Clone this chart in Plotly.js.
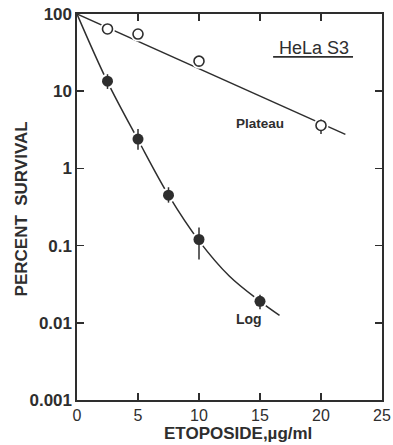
<!DOCTYPE html>
<html>
<head>
<meta charset="utf-8">
<script src="https://cdn.plot.ly/plotly-3.0.1.min.js"></script>
<style>html,body{margin:0;padding:0;background:#fff;}#chart{width:393px;height:445px;}</style>
</head>
<body>
<div id="chart"></div>
<script>
// Plateau-phase cells (open circles)
const plateauDose = [2.5, 5, 10, 20];
const plateauSurv = [64, 55, 24.5, 3.6];
const plateauErrUp = [0, 0, 0, 0.7];
const plateauErrDown = [0, 0, 0, 0.8];
// Fitted plateau line
const plateauFitDose = [0, 22];
const plateauFitSurv = [100, 2.76];

// Log-phase cells (filled circles)
const logDose = [2.5, 5, 7.5, 10, 15];
const logSurv = [13.5, 2.4, 0.45, 0.12, 0.019];
const logErrUp = [3.1, 0.85, 0.12, 0.052, 0.004];
const logErrDown = [2.8, 0.65, 0.09, 0.054, 0.004];
// Fitted log curve
const logFitDose = [0, 2.5, 5, 7.5, 10, 12.5, 15, 16.6];
const logFitSurv = [100, 13.2, 2.35, 0.45, 0.115, 0.04, 0.019, 0.0125];

const xTickVals = [0, 5, 10, 15, 20, 25];
const xTickText = ['0', '5', '10', '15', '20', '25'];
const yTickVals = [0.001, 0.01, 0.1, 1, 10, 100];
const yTickText = ['0.001', '0.01', '0.1', '1', '10', '100'];

const ink = '#2e2e2e';
const fontFam = '"Liberation Sans", Arial, Helvetica, sans-serif';

const traces = [
  {x: plateauFitDose, y: plateauFitSurv, mode: 'lines', line: {color: ink, width: 1.5}, hoverinfo: 'skip'},
  {x: logFitDose, y: logFitSurv, mode: 'lines', line: {color: ink, width: 1.5, shape: 'spline', smoothing: 1}, hoverinfo: 'skip'},
  // white halos creating the small gaps around the markers
  {x: plateauDose, y: plateauSurv, mode: 'markers', marker: {size: 15, color: '#fff'}, hoverinfo: 'skip'},
  {x: logDose, y: logSurv, mode: 'markers', marker: {size: 15, color: '#fff'}, hoverinfo: 'skip'},
  {x: plateauDose, y: plateauSurv, mode: 'markers',
   marker: {symbol: 'circle', size: 10, color: '#fff', line: {width: 1.6, color: ink}},
   error_y: {type: 'data', symmetric: false, array: plateauErrUp, arrayminus: plateauErrDown, width: 0, thickness: 1.5, color: ink}},
  {x: logDose, y: logSurv, mode: 'markers',
   marker: {symbol: 'circle', size: 11, color: ink},
   error_y: {type: 'data', symmetric: false, array: logErrUp, arrayminus: logErrDown, width: 0, thickness: 1.5, color: ink}}
];

const axisCommon = {
  showline: true, linecolor: ink, linewidth: 1.6, mirror: 'ticks',
  ticks: 'inside', ticklen: 7, tickwidth: 1.5, tickcolor: ink,
  showgrid: false, zeroline: false,
  tickfont: {family: fontFam, size: 17, color: ink, weight: 'bold'}
};

const layout = {
  width: 393, height: 445,
  margin: {l: 77, r: 11, t: 14, b: 45},
  paper_bgcolor: '#fff', plot_bgcolor: '#fff',
  showlegend: false,
  font: {family: fontFam, color: ink},
  xaxis: Object.assign({}, axisCommon, {
    range: [0, 25], tickmode: 'array', tickvals: xTickVals, ticktext: xTickText,
    tickfont: {family: fontFam, size: 16, color: ink}
  }),
  yaxis: Object.assign({}, axisCommon, {
    type: 'log', range: [-3, 2], tickmode: 'array', tickvals: yTickVals, ticktext: yTickText
  }),
  annotations: [
    {xref: 'paper', yref: 'paper', x: 0.5295, y: -0.0855, text: 'ETOPOSIDE,µg/ml', showarrow: false,
     font: {family: fontFam, size: 17, color: ink, weight: 'bold'}, xanchor: 'center', yanchor: 'middle'},
    {xref: 'paper', yref: 'paper', x: -0.182, y: 0.495, text: 'PERCENT  SURVIVAL', showarrow: false, textangle: -90,
     font: {family: fontFam, size: 17, color: ink, weight: 'bold'}, xanchor: 'center', yanchor: 'middle'},
    {xref: 'paper', yref: 'paper', x: 0.778, y: 0.912, text: 'HeLa S3', showarrow: false,
     font: {family: fontFam, size: 18, color: ink}, xanchor: 'center', yanchor: 'middle'},
    {xref: 'paper', yref: 'paper', x: 0.60, y: 0.7176, text: 'Plateau', showarrow: false,
     font: {family: fontFam, size: 13.5, color: ink, weight: 'bold'}, xanchor: 'center', yanchor: 'middle'},
    {xref: 'paper', yref: 'paper', x: 0.564, y: 0.21, text: 'Log', showarrow: false,
     font: {family: fontFam, size: 14, color: ink, weight: 'bold'}, xanchor: 'center', yanchor: 'middle'}
  ],
  shapes: [
    {type: 'line', xref: 'paper', yref: 'paper', x0: 0.643, x1: 0.905, y0: 0.889, y1: 0.889,
     line: {color: ink, width: 1.6}}
  ]
};

Plotly.newPlot('chart', traces, layout, {displayModeBar: false, staticPlot: true});
</script>
</body>
</html>
